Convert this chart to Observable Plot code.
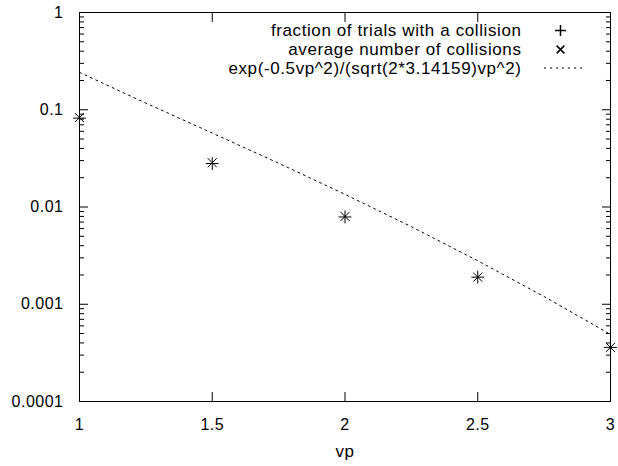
<!DOCTYPE html>
<html><head><meta charset="utf-8">
<script src="https://cdn.jsdelivr.net/npm/d3@7"></script>
<script src="https://cdn.jsdelivr.net/npm/@observablehq/plot@0.6"></script>
<style>body{margin:0;background:#fff}</style>
</head><body><div id="chart"></div>
<script>
// data
const vp = [1, 1.5, 2, 2.5, 3];
const fractionCollision = [0.082, 0.028, 0.0079, 0.0019, 0.00036];
const avgCollisions = [0.083, 0.0285, 0.0080, 0.0019, 0.00036];
const curveVp = [1, 1.25, 1.5, 1.75, 2, 2.25, 2.5, 2.75, 3];
const curveValues = [0.242, 0.117, 0.0576, 0.0282, 0.0135, 0.00627, 0.0028, 0.0012, 0.00049];
const legendLabels = [
  "fraction of trials with a collision",
  "average number of collisions",
  "exp(-0.5vp^2)/(sqrt(2*3.14159)vp^2)"
];
const xTicks = [1, 1.5, 2, 2.5, 3];
const xTickLabels = ["1", "1.5", "2", "2.5", "3"];
const yTicks = [0.0001, 0.001, 0.01, 0.1, 1];
const yTickLabels = ["0.0001", "0.001", "0.01", "0.1", "1"];
const yMinorTicks = yTicks.slice(0, 4).flatMap(d => [2, 3, 4, 5, 6, 7, 8, 9].map(k => k * d));

const fractionData = vp.map((x, i) => ({x, y: fractionCollision[i]}));
const avgData = vp.map((x, i) => ({x, y: avgCollisions[i]}));
const curveData = curveVp.map((x, i) => ({x, y: curveValues[i]}));

const symR = 4.2;
const legR = 3.6;
const chart = Plot.plot({
  width: 618, height: 466,
  marginLeft: 79, marginRight: 8, marginTop: 12, marginBottom: 65,
  x: {domain: [1, 3]},
  y: {type: "log", domain: [0.0001, 1]},
  style: {fontFamily: "'Liberation Sans', Arial, sans-serif", fontSize: "16px", background: "white", color: "black"},
  marks: [
    // tick labels
    Plot.axisY({anchor: "left", ticks: yTicks, tickSize: 0, tickPadding: 16, label: null,
      tickFormat: d => yTickLabels[yTicks.indexOf(d)]}),
    Plot.axisX({anchor: "bottom", ticks: xTicks, tickSize: 0, tickPadding: 17, label: null,
      tickFormat: d => xTickLabels[xTicks.indexOf(d)]}),
    // inward ticks (major, mirrored)
    Plot.axisY({anchor: "left", ticks: yTicks, tickSize: 9, dx: 9, fill: "none", label: null}),
    Plot.axisY({anchor: "right", ticks: yTicks, tickSize: 9, dx: -9, fill: "none", label: null}),
    Plot.axisY({anchor: "left", ticks: yMinorTicks, tickSize: 5, dx: 5, fill: "none", label: null}),
    Plot.axisY({anchor: "right", ticks: yMinorTicks, tickSize: 5, dx: -5, fill: "none", label: null}),
    Plot.axisX({anchor: "bottom", ticks: xTicks, tickSize: 9, dy: -9, fill: "none", label: null}),
    Plot.axisX({anchor: "top", ticks: xTicks, tickSize: 9, dy: 9, fill: "none", label: null}),
    Plot.frame({stroke: "black"}),
    // x label
    Plot.text(["vp"], {frameAnchor: "bottom", lineAnchor: "middle", dy: 50, fontSize: 17}),
    // curve
    Plot.line(curveData, {x: "x", y: "y", stroke: "black", strokeWidth: 1, strokeDasharray: "2,4"}),
    // points
    Plot.dot(fractionData, {x: "x", y: "y", symbol: "plus", r: symR, stroke: "black", strokeWidth: 1}),
    Plot.dot(avgData, {x: "x", y: "y", symbol: "times", r: symR, stroke: "black", strokeWidth: 1}),
    // legend
    Plot.text([legendLabels[0]], {frameAnchor: "top-right", lineAnchor: "middle", dx: -89, dy: 18, textAnchor: "end", fontSize: 17}),
    Plot.text([legendLabels[1]], {frameAnchor: "top-right", lineAnchor: "middle", dx: -89, dy: 37, textAnchor: "end", fontSize: 17}),
    Plot.text([legendLabels[2]], {frameAnchor: "top-right", lineAnchor: "middle", dx: -89, dy: 56, textAnchor: "end", fontSize: 17}),
    Plot.dot([0], {frameAnchor: "top-right", dx: -50, dy: 18, symbol: "plus", r: legR, stroke: "black"}),
    Plot.dot([0], {frameAnchor: "top-right", dx: -50, dy: 37, symbol: "times", r: legR, stroke: "black"})
  ]
});
// letter spacing to match the reference's wider glyph advance
d3.select(chart).selectAll("text").each(function() {
  const t = this.textContent;
  const isLegend = legendLabels.includes(t);
  d3.select(this).style("letter-spacing", isLegend ? "0.6px" : "0.5px");
});
d3.select(chart).append("line")
  .attr("x1", 544).attr("x2", 583).attr("y1", 68).attr("y2", 68)
  .attr("stroke", "black").attr("stroke-width", 1).attr("stroke-dasharray", "2,4");
document.getElementById("chart").appendChild(chart);
</script>
</body></html>
